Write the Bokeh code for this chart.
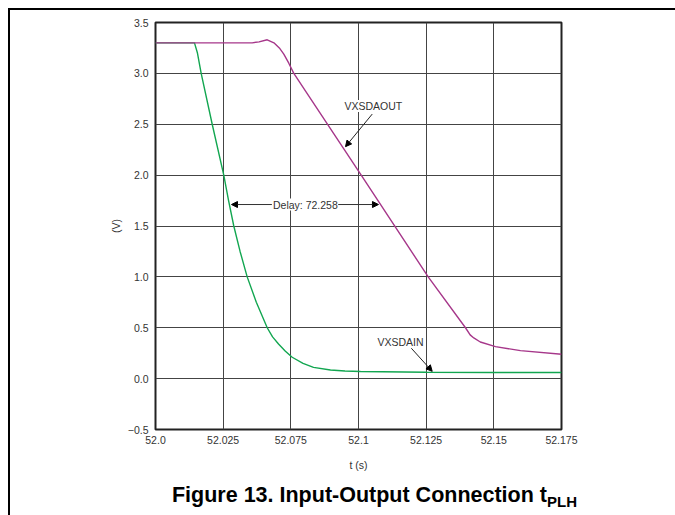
from bokeh.plotting import figure
from bokeh.layouts import column
from bokeh.models import Label, Arrow, NormalHead, CustomJSTickFormatter, FixedTicker, Range1d, Div
from bokeh.embed import file_html
from bokeh.resources import INLINE

# ---- data (x in grid divisions, 0..6, labelled as in the original) ----
x_tick_labels = ["52.0", "52.025", "52.075", "52.1", "52.125", "52.15", "52.175"]
x_ticks = [0, 1, 2, 3, 4, 5, 6]
y_ticks = [-0.5, 0.0, 0.5, 1.0, 1.5, 2.0, 2.5, 3.0, 3.5]

vin_x = [0.0, 0.576, 0.62, 0.675, 0.838, 1.009, 1.08, 1.157, 1.25, 1.355, 1.49,
         1.651, 1.73, 1.818, 1.92, 2.02, 2.18, 2.335, 2.586, 2.8, 3.03, 4.0, 5.0, 6.0]
vin_v = [3.30, 3.30, 3.20, 3.0, 2.5, 2.0, 1.75, 1.5, 1.25, 1.0, 0.75,
         0.5, 0.41, 0.34, 0.27, 0.21, 0.15, 0.11, 0.085, 0.075, 0.07, 0.062, 0.06, 0.06]

vout_x = [0.0, 1.429, 1.53, 1.651, 1.75, 1.83, 1.896, 1.97, 2.044, 3.04,
          4.03, 4.581, 4.65, 4.704, 4.80, 5.024, 5.394, 6.0]
vout_v = [3.30, 3.30, 3.31, 3.33, 3.30, 3.25, 3.19, 3.10, 3.0, 2.0,
          1.0, 0.5, 0.43, 0.40, 0.36, 0.315, 0.275, 0.24]

delay_text = "Delay: 72.258"
delay_level = 1.711
delay_left, delay_right = 1.123, 3.295

caption_main = "Figure 13. Input-Output Connection t"
caption_sub = "PLH"

FONT = "Liberation Sans"
GREEN = "#12a650"
PURPLE = "#a6378a"

p = figure(width=657, height=468, output_backend="svg", toolbar_location=None,
           x_range=Range1d(0, 6), y_range=Range1d(-0.5, 3.5),
           min_border_left=145, min_border_right=106, min_border_top=12, min_border_bottom=49)
p.background_fill_color = "white"
p.border_fill_color = "white"
p.outline_line_color = "#222222"
p.outline_line_width = 2

p.xaxis.ticker = FixedTicker(ticks=x_ticks)
p.yaxis.ticker = FixedTicker(ticks=y_ticks)
p.xaxis.formatter = CustomJSTickFormatter(args=dict(labels=x_tick_labels),
                                          code="return labels[Math.round(tick)];")
p.yaxis.formatter = CustomJSTickFormatter(
    code="return (tick < 0 ? '\u2212' : '') + Math.abs(tick).toFixed(1);")

for ax in (p.xaxis, p.yaxis):
    ax.axis_line_color = None
    ax.major_tick_line_color = None
    ax.minor_tick_line_color = None
    ax.major_tick_out = 0
    ax.major_tick_in = 0
    ax.minor_tick_out = 0
    ax.minor_tick_in = 0
    ax.major_label_text_font = FONT
    ax.major_label_text_font_size = "10.5px"
    ax.major_label_text_color = "#333333"
    ax.axis_label_text_font = FONT
    ax.axis_label_text_font_size = "10.5px"
    ax.axis_label_text_font_style = "normal"
    ax.axis_label_text_color = "#333333"

p.xaxis.axis_label = "t (s)"
p.yaxis.axis_label = "(V)"
p.xaxis.major_label_standoff = 6
p.yaxis.major_label_standoff = 7
p.xaxis.axis_label_standoff = 12
p.yaxis.axis_label_standoff = 3

p.xgrid.ticker = FixedTicker(ticks=x_ticks)
p.ygrid.ticker = FixedTicker(ticks=y_ticks)
for g in (p.xgrid, p.ygrid):
    g.grid_line_color = "#444444"
    g.grid_line_width = 1

p.line(vin_x, vin_v, line_color=GREEN, line_width=1.4)
p.line(vout_x, vout_v, line_color=PURPLE, line_width=1.4)


def head():
    return NormalHead(size=6, fill_color="black", line_color="black")


# delay annotation
p.add_layout(Arrow(end=head(), x_start=1.72, y_start=delay_level, x_end=delay_left,
                   y_end=delay_level, line_color="#333333", line_width=1))
p.add_layout(Arrow(end=head(), x_start=2.70, y_start=delay_level, x_end=delay_right,
                   y_end=delay_level, line_color="#333333", line_width=1))
p.add_layout(Label(x=2.215, y=delay_level, text=delay_text, text_align="center",
                   text_baseline="middle", text_font=FONT, text_font_size="10.5px",
                   text_color="#333333", background_fill_color="white"))

# series labels
p.add_layout(Arrow(end=head(), x_start=3.203, y_start=2.60, x_end=2.808, y_end=2.28,
                   line_color="#222222", line_width=1))
p.add_layout(Label(x=3.22, y=2.68, text="VXSDAOUT", text_align="center",
                   text_baseline="middle", text_font=FONT, text_font_size="10.5px",
                   text_color="#333333", background_fill_color="white"))
p.add_layout(Arrow(end=head(), x_start=3.768, y_start=0.308, x_end=4.089, y_end=0.072,
                   line_color="#222222", line_width=1))
p.add_layout(Label(x=3.62, y=0.357, text="VXSDAIN", text_align="center",
                   text_baseline="middle", text_font=FONT, text_font_size="10.5px",
                   text_color="#333333", background_fill_color="white"))

cap = Div(text=f"{caption_main}<sub style='font-size:15px'>{caption_sub}</sub>",
          width=657, height=35,
          styles={"font-family": FONT, "font-size": "21.5px", "font-weight": "bold",
                  "color": "black", "text-align": "right", "padding-right": "95px",
                  "padding-top": "0px", "line-height": "24px", "box-sizing": "border-box"})

layout = column(p, cap, spacing=0,
                styles={"margin-left": "8px", "margin-top": "8px",
                        "border-left": "2px solid black", "border-top": "2px solid black"})

open("out.html", "w").write(file_html(layout, INLINE))
